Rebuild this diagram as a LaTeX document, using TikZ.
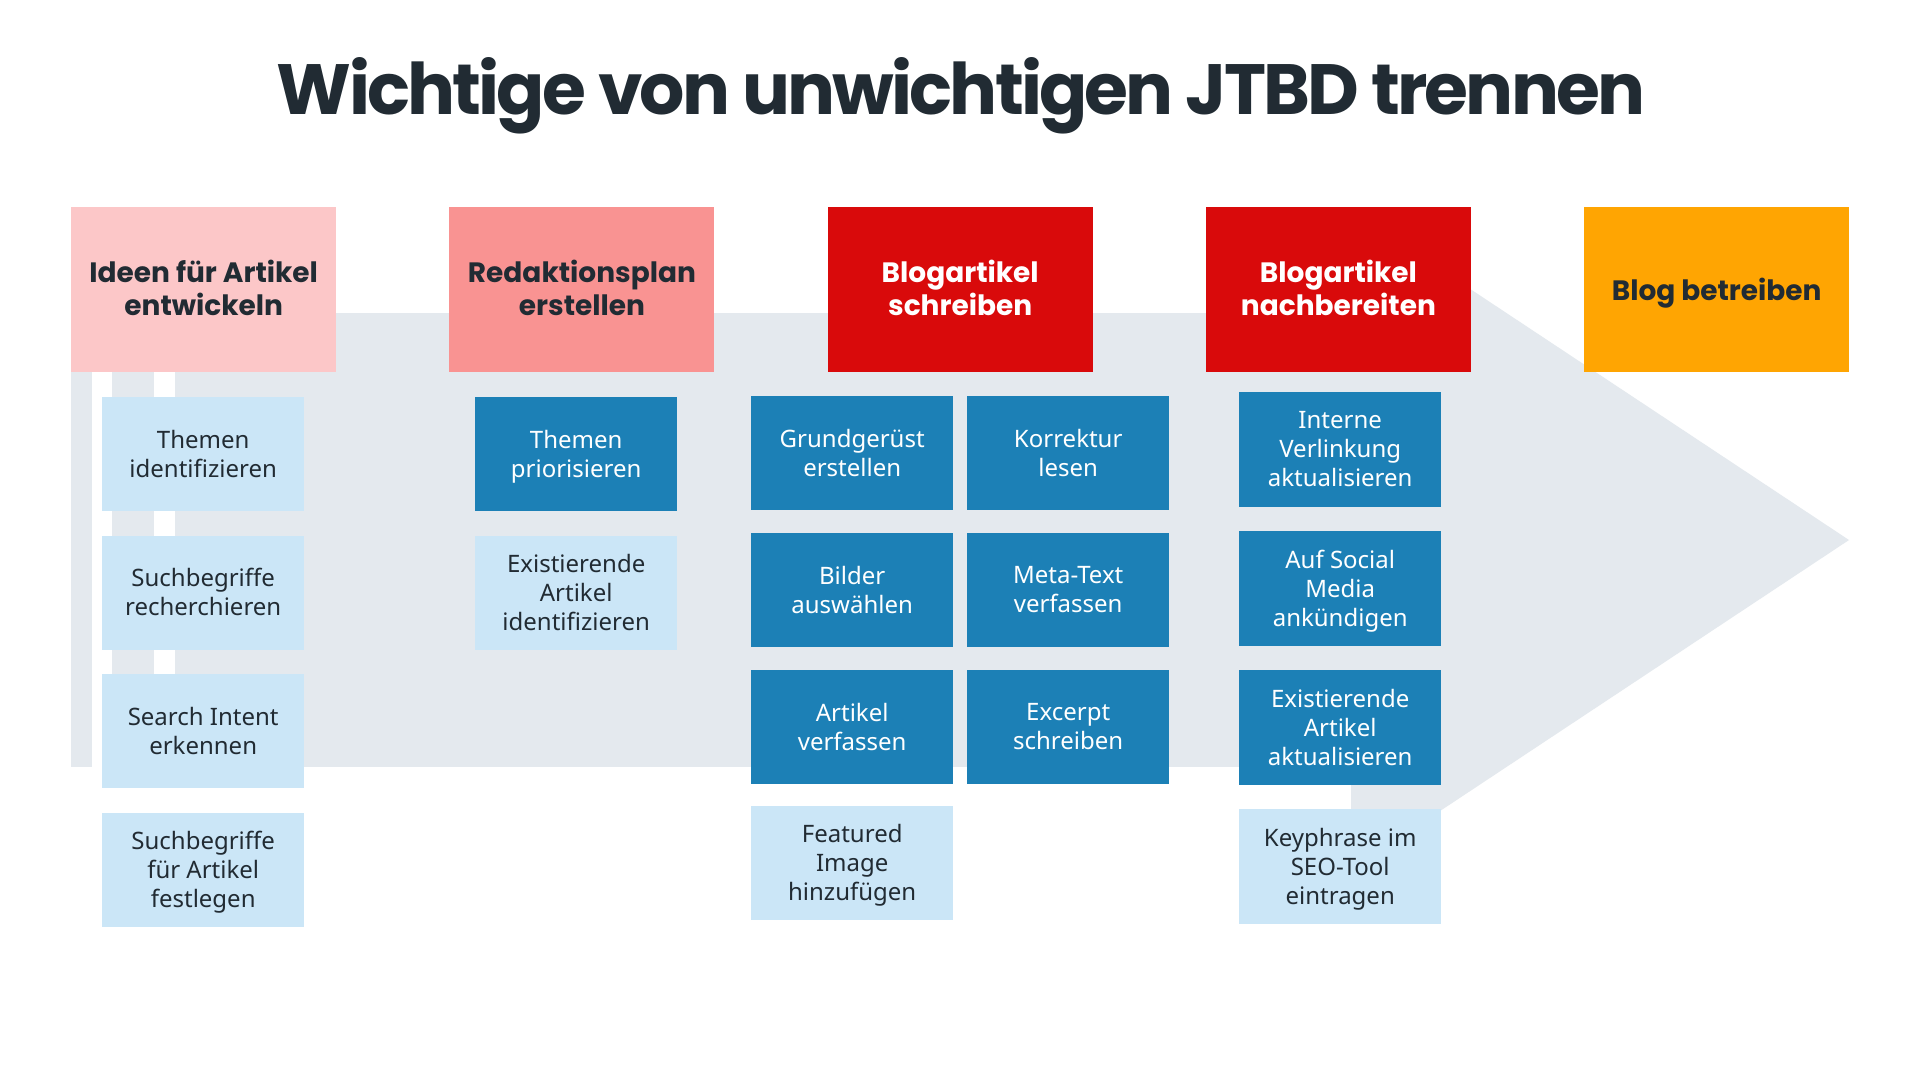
\documentclass[tikz,border=0pt]{standalone}
\usepackage{fontspec}
\setmainfont{Noto Sans}
\newfontfamily\popb{Poppins}
\newfontfamily\titlefont{Poppins}[LetterSpace=-4]
\definecolor{hdrA}{HTML}{FCC7C8}
\definecolor{hdrB}{HTML}{F99392}
\definecolor{hdrC}{HTML}{D90A0B}
\definecolor{hdrE}{HTML}{FFA502}
\definecolor{darkblue}{HTML}{1C80B6}
\definecolor{lightblue}{HTML}{CBE6F7}
\definecolor{arrowgray}{HTML}{E4E9EE}
\definecolor{txtdark}{HTML}{212B33}
\newcommand\hdrfont{\popb\bfseries\fontsize{28}{33}\selectfont}
\newcommand\subfont{\fontsize{24}{29}\selectfont}
\newcommand\hdrstrut{\rule[-3.8pt]{0pt}{33pt}}
\newcommand\substrut{\rule[-1.3pt]{0pt}{29pt}}
\newcommand\nodepth[1]{\raisebox{0pt}[\height][0pt]{#1}}
\tikzset{
  hdr/.style={rectangle, minimum width=265pt, minimum height=165pt, inner sep=0pt, anchor=north west, align=center, font=\hdrfont, text=txtdark,
    execute at begin node=\hdrstrut, execute at end node=\hdrstrut},
  subbox/.style={rectangle, minimum width=202pt, minimum height=114pt, inner sep=0pt, anchor=north west, align=center, font=\subfont,
    execute at begin node=\substrut, execute at end node=\substrut},
  lightbox/.style={subbox, fill=lightblue, text=txtdark},
  darkbox/.style={subbox, fill=darkblue, text=white},
}
\begin{document}
\begin{tikzpicture}[x=1pt,y=-1pt]
\useasboundingbox (0,0) rectangle (1920,1080);
\fill[white] (0,0) rectangle (1920,1080);
% arrow background
\fill[arrowgray] (71,313) rectangle (1352,767);
\fill[arrowgray] (1351,210) -- (1849,540) -- (1351,870) -- cycle;
\fill[white] (91.7,372) rectangle (112.3,767);
\fill[white] (154,372) rectangle (175,767);
% title
\node[anchor=base, text=txtdark] (title) at (961,114)
  {\resizebox{1368pt}{!}{\titlefont\bfseries\fontsize{86}{86}\selectfont Wichtige von unwichtigen JTBD trennen}};
% headers
\node[hdr, fill=hdrA] (h1) at (71,207) {Ideen für Artikel\\entwickeln};
\node[hdr, fill=hdrB] (h2) at (449.25,207) {Redaktionsplan\\erstellen};
\node[hdr, fill=hdrC, text=white] (h3) at (827.5,207) {Blogartikel\\schreiben};
\node[hdr, fill=hdrC, text=white] (h4) at (1205.75,207) {Blogartikel\\nachbereiten};
\node[hdr, fill=hdrE] (h5) at (1584,207) {Blog betreiben};
% column 1
\node[lightbox] (a1) at (102,397) {Themen\\identifizieren};
\node[lightbox] (a2) at (102,535.5) {Suchbegriffe\\recherchieren};
\node[lightbox] (a3) at (102,674) {Search Intent\\erkennen};
\node[lightbox] (a4) at (102,812.5) {Suchbegriffe\\für Artikel\\\nodepth{festlegen}};
% column 2
\node[darkbox] (b1) at (475,397) {Themen\\\nodepth{priorisieren}};
\node[lightbox] (b2) at (475,535.5) {Existierende\\Artikel\\identifizieren};
% column 3
\node[darkbox] (c1) at (751,396) {Grundgerüst\\erstellen};
\node[darkbox] (c2) at (751,533) {Bilder\\auswählen};
\node[darkbox] (c3) at (751,670) {Artikel\\verfassen};
\node[lightbox] (c4) at (751,806) {Featured\\Image\\\nodepth{hinzufügen}};
\node[darkbox] (d1) at (967,396) {Korrektur\\lesen};
\node[darkbox] (d2) at (967,533) {Meta-Text\\verfassen};
\node[darkbox] (d3) at (967,670) {Excerpt\\schreiben};
% column 4
\node[darkbox, minimum height=115pt] (e1) at (1239,392) {Interne\\Verlinkung\\aktualisieren};
\node[darkbox, minimum height=115pt] (e2) at (1239,531) {Auf Social\\Media\\\nodepth{ankündigen}};
\node[darkbox, minimum height=115pt] (e3) at (1239,670) {Existierende\\Artikel\\aktualisieren};
\node[lightbox, minimum height=115pt] (e4) at (1239,809) {Keyphrase im\\SEO-Tool\\\nodepth{eintragen}};
\end{tikzpicture}
\end{document}
